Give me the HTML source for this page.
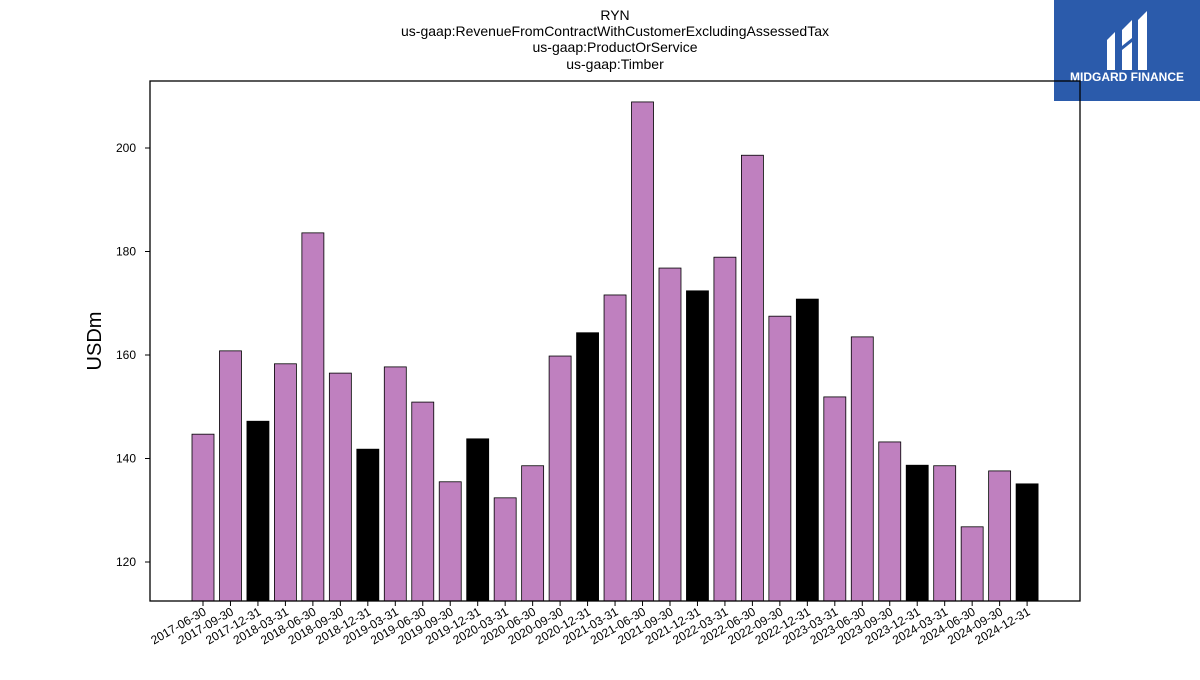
<!DOCTYPE html>
<html><head><meta charset="utf-8"><style>
body{margin:0;background:#fff;font-family:"Liberation Sans","DejaVu Sans",sans-serif}
</style></head><body>
<svg width="1200" height="675" xmlns="http://www.w3.org/2000/svg" id="svg">
<g font-size="14" text-anchor="middle" fill="#000">
<text x="615" y="20">RYN</text>
<text x="615" y="36">us-gaap:RevenueFromContractWithCustomerExcludingAssessedTax</text>
<text x="615" y="52">us-gaap:ProductOrService</text>
<text x="615" y="69">us-gaap:Timber</text>
</g>
<g>
<rect x="1054" y="0" width="146" height="101" fill="#2b5bab"/>
<path d="M1107 40 L1115 32 L1115 70 L1107 70 Z M1122 30 L1132 20 L1132 38 L1122 46 Z M1122 50 L1132 42 L1132 70 L1122 70 Z M1138 20 L1147 11 L1147 70 L1138 70 Z" fill="#fff"/>
<text x="1127" y="81" font-size="12" font-weight="bold" fill="#fff" text-anchor="middle">MIDGARD FINANCE</text>
</g>
<text x="101" y="341" font-size="20" text-anchor="middle" transform="rotate(-90 101 341)">USDm</text>
<g id="plot"></g>
<rect x="150" y="81" width="930" height="520" fill="none" stroke="#000" stroke-width="1.3"/>
</svg>
<script>
const categories=["2017-06-30","2017-09-30","2017-12-31","2018-03-31","2018-06-30","2018-09-30","2018-12-31","2019-03-31","2019-06-30","2019-09-30","2019-12-31","2020-03-31","2020-06-30","2020-09-30","2020-12-31","2021-03-31","2021-06-30","2021-09-30","2021-12-31","2022-03-31","2022-06-30","2022-09-30","2022-12-31","2023-03-31","2023-06-30","2023-09-30","2023-12-31","2024-03-31","2024-06-30","2024-09-30","2024-12-31"];
const values=[144.7,160.8,147.2,158.3,183.6,156.5,141.8,157.7,150.9,135.5,143.8,132.4,138.6,159.8,164.3,171.6,208.9,176.8,172.4,178.9,198.6,167.5,170.8,151.9,163.5,143.2,138.7,138.6,126.8,137.6,135.1];
const yTicks=[120,140,160,180,200];
const NS="http://www.w3.org/2000/svg";
const g=document.getElementById('plot');
const y=v=>562-(v-120)*5.175;
const x=i=>203+i*27.47;
const bottom=601;
function mk(t,a){const e=document.createElementNS(NS,t);for(const k in a)e.setAttribute(k,a[k]);g.appendChild(e);return e;}
yTicks.forEach(t=>{
 const l=mk('line',{x1:145,x2:150,y1:y(t),y2:y(t),stroke:'#000'});
 
 
 const tx=mk('text',{x:136,y:y(t)+4,'font-size':12,'text-anchor':'end'});tx.textContent=t;
 
 
});
categories.forEach((c,i)=>{
 const isDec=c.endsWith('12-31');
 const r=mk('rect',{x:x(i)-11,y:y(values[i]),width:22,height:bottom-y(values[i]),fill:isDec?'#000':'#bf80bf',stroke:'#000','stroke-width':0.8});
 
 
 const t=mk('line',{x1:x(i),x2:x(i),y1:601,y2:606,stroke:'#000'});
 
 
 const tx=mk('text',{x:x(i)+4,y:614,'font-size':12,'text-anchor':'end',transform:`rotate(-30 ${x(i)+4} 614)`});
 tx.textContent=c;
 
 
});
</script>
</body></html>
